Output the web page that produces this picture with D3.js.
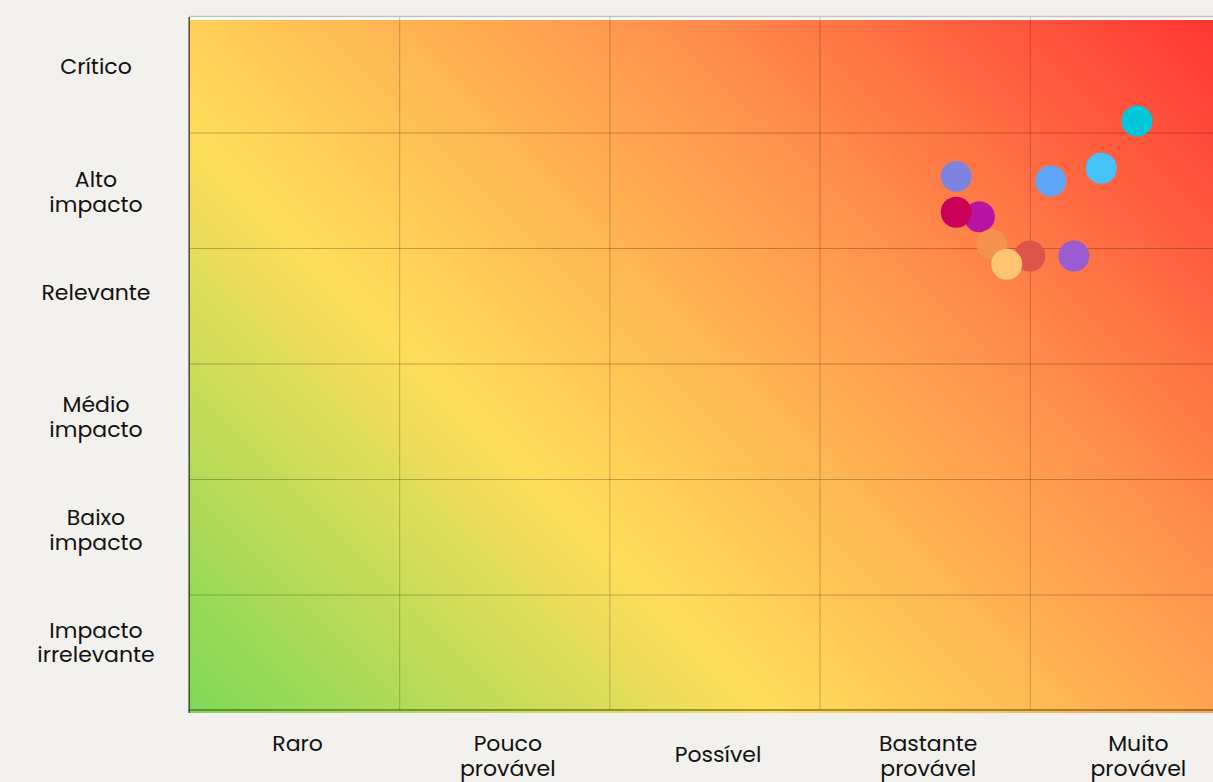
<!DOCTYPE html>
<html>
<head>
<meta charset="utf-8">
<script src="https://cdn.jsdelivr.net/npm/d3@7"></script>
<style>
  html, body { margin: 0; padding: 0; background: #f2f1ed; overflow: hidden; }
  svg { display: block; }
  text { font-family: Poppins, "Noto Sans", sans-serif; fill: #111; }
</style>
</head>
<body>
<svg id="chart" width="1213" height="782"></svg>
<script>
// ---- data ----
const likelihoodLabels = [["Raro"], ["Pouco", "provável"], ["Possível"], ["Bastante", "provável"], ["Muito", "provável"]];
const impactLabels = [["Crítico"], ["Alto", "impacto"], ["Relevante"], ["Médio", "impacto"], ["Baixo", "impacto"], ["Impacto", "irrelevante"]];
const centeredXLabels = ["Possível"];

const riskIds        = ["r1", "r2", "r3", "r4", "r5", "r6", "r7", "r8", "r9", "r10"];
const riskLikelihood = [3.65, 4.10, 4.34, 4.51, 4.21, 3.76, 3.65, 3.82, 4.00, 3.89];
const riskImpact     = [4.62, 4.58, 4.69, 5.10, 3.93, 4.27, 4.31, 4.03, 3.93, 3.86];
const riskColors     = ["#7f83e0", "#60a5fa", "#45c2f8", "#00c8d8", "#9b5ccf", "#b914a1", "#cc0059", "#f49150", "#de5449", "#ffc46f"];

const gradientStops = ["#7ed957", "#ffde59", "#ff914d", "#ff3131"];

// ---- layout ----
const pLeft = 189, pRight = 1240, pTop = 17, pBottom = 710;
const svg = d3.select("#chart");

const x = d3.scaleLinear().domain([0, 5]).range([pLeft, pRight]);
const y = d3.scaleLinear().domain([0, 6]).range([pBottom, pTop]);

// gradient (45deg, spanning full box)
const W = pRight - pLeft, H = pBottom + 3 - pTop;
const defs = svg.append("defs");
const grad = defs.append("linearGradient")
  .attr("id", "riskGrad")
  .attr("gradientUnits", "userSpaceOnUse")
  .attr("x1", pLeft).attr("y1", pBottom + 3)
  .attr("x2", pLeft + (W + H) / 2).attr("y2", pBottom + 3 - (W + H) / 2);
gradientStops.forEach((c, i) => {
  grad.append("stop").attr("offset", i / (gradientStops.length - 1)).attr("stop-color", c);
});

// white strip + gradient + top line
svg.append("rect").attr("x", pLeft).attr("y", pTop).attr("width", W).attr("height", 4).attr("fill", "#ffffff");
svg.append("rect")
  .attr("x", pLeft).attr("y", pTop + 3)
  .attr("width", W).attr("height", pBottom + 3 - (pTop + 3))
  .attr("fill", "url(#riskGrad)");
svg.append("line")
  .attr("x1", pLeft).attr("x2", pRight)
  .attr("y1", pTop - 0.5).attr("y2", pTop - 0.5)
  .attr("stroke", "#c4c3bf").attr("stroke-width", 1.5);

// grid via axes
const gx = svg.append("g")
  .attr("transform", `translate(0,${pBottom})`)
  .call(d3.axisBottom(x).tickValues([1, 2, 3, 4]).tickSize(-(pBottom - pTop)).tickFormat(""));
gx.select(".domain").remove();
gx.selectAll(".tick line").attr("stroke", "rgba(0,0,0,0.22)").attr("stroke-width", 1);

const gy = svg.append("g")
  .attr("transform", `translate(${pLeft},0)`)
  .call(d3.axisLeft(y).tickValues([1, 2, 3, 4, 5]).tickSize(-W).tickFormat(""));
gy.select(".domain").remove();
gy.selectAll(".tick line").attr("stroke", "rgba(0,0,0,0.25)").attr("stroke-width", 1);

// axis lines
svg.append("line")
  .attr("x1", pLeft - 0.5).attr("x2", pRight)
  .attr("y1", y(0)).attr("y2", y(0))
  .attr("stroke", "rgba(40,40,20,0.55)").attr("stroke-width", 1.6);
svg.append("line")
  .attr("x1", pLeft + 0.2).attr("x2", pLeft + 0.2)
  .attr("y1", pTop).attr("y2", pBottom + 3)
  .attr("stroke", "rgba(50,45,30,0.85)").attr("stroke-width", 1.5);

// points
const pts = riskIds.map((id, i) => ({ id, lx: riskLikelihood[i], iy: riskImpact[i], c: riskColors[i] }));
svg.append("g").selectAll("circle").data(pts).join("circle")
  .attr("cx", d => x(d.lx))
  .attr("cy", d => y(d.iy))
  .attr("r", 15.5)
  .attr("fill", d => d.c);

// y labels (top to bottom)
const fs = 22, lineH = 24.5;
const yBand = d3.scaleBand().domain(d3.range(impactLabels.length)).range([22, 698]);
const yl = svg.append("g").selectAll("text").data(impactLabels).join("text")
  .attr("text-anchor", "middle")
  .attr("font-size", fs)
  .attr("x", 96)
  .attr("y", (d, i) => yBand(i) + yBand.bandwidth() / 2 - 4);
yl.selectAll("tspan").data(d => d).join("tspan")
  .attr("x", 96)
  .attr("dy", (d, j) => j === 0 ? 0 : lineH)
  .text(d => d);

// x labels
const xl = svg.append("g").selectAll("text").data(likelihoodLabels).join("text")
  .attr("text-anchor", "middle")
  .attr("font-size", fs)
  .attr("x", (d, i) => x(i + 0.5) + 3.5)
  .attr("y", d => centeredXLabels.includes(d[0]) ? 762 : 751);
xl.selectAll("tspan").data((d, i) => d.map(t => ({ t, i }))).join("tspan")
  .attr("x", d => x(d.i + 0.5) + 3.5)
  .attr("dy", (d, j) => j === 0 ? 0 : lineH)
  .text(d => d.t);
</script>
</body>
</html>
